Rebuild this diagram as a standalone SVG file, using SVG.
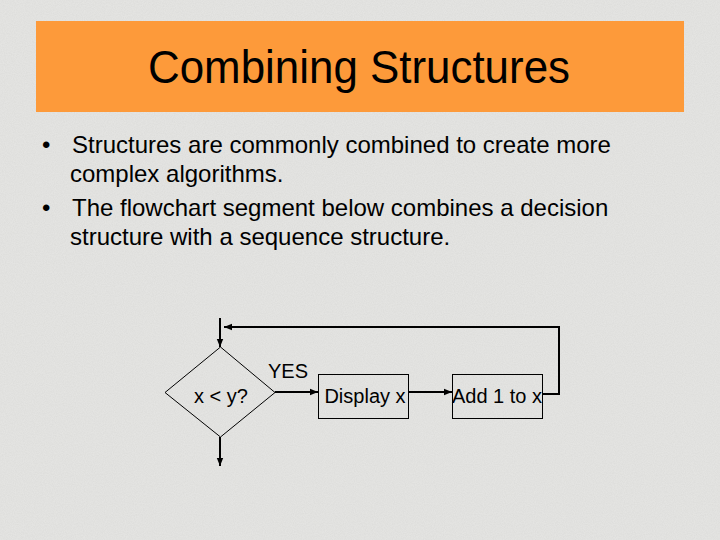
<svg xmlns="http://www.w3.org/2000/svg" width="720" height="540" viewBox="0 0 720 540">
<defs>
<filter id="noise" x="0" y="0" width="100%" height="100%">
<feTurbulence type="fractalNoise" baseFrequency="0.9" numOctaves="2" seed="3" result="t"/>
<feColorMatrix type="matrix" values="0 0 0 0 0.6  0 0 0 0 0.6  0 0 0 0 0.58  0 0 0 -1.2 0.9"/>
</filter>
<marker id="arr" viewBox="0 0 10 10" refX="10" refY="5" markerWidth="8" markerHeight="8" markerUnits="userSpaceOnUse" orient="auto">
<path d="M0,1 L10,5 L0,9 z" fill="#000"/>
</marker>
<style>
.t{font-family:"Liberation Sans",Arial,sans-serif;fill:#000}
.b{font-size:24px}
.f{font-size:20px}
.shape{fill:none;stroke:#000;stroke-width:1}
.con{fill:none;stroke:#000;stroke-width:2;marker-end:url(#arr)}
</style>
</defs>
<rect width="720" height="540" fill="#e4e4e2"/>
<rect width="720" height="540" filter="url(#noise)" opacity="0.35"/>
<g id="title">
<rect x="36" y="21" width="648" height="91" fill="#fd9a3a"/>
<text class="t" x="359" y="83" font-size="46" text-anchor="middle" textLength="422" lengthAdjust="spacingAndGlyphs">Combining Structures</text>
</g>
<g id="bullets" class="t b">
<text x="42" y="153">•</text>
<text x="72" y="153">Structures are commonly combined to create more</text>
<text x="70" y="182">complex algorithms.</text>
<text x="42" y="216">•</text>
<text x="72" y="216">The flowchart segment below combines a decision</text>
<text x="70" y="245">structure with a sequence structure.</text>
</g>
<g id="decision">
<polygon class="shape" points="220.5,347 275,392.5 220.5,437 165,392.5"/>
<text class="t f" x="221" y="403" text-anchor="middle">x &lt; y?</text>
</g>
<g id="display">
<rect class="shape" x="318.5" y="374.5" width="90" height="44"/>
<text class="t f" x="365" y="403" text-anchor="middle">Display x</text>
</g>
<g id="add">
<rect class="shape" x="452.5" y="374.5" width="90" height="44"/>
<text class="t f" x="497" y="403" text-anchor="middle">Add 1 to x</text>
</g>
<g id="connectors">
<line class="con" x1="220" y1="318" x2="220" y2="347"/>
<line class="con" x1="220" y1="437" x2="220" y2="466"/>
<line class="con" x1="275" y1="392" x2="318" y2="392"/>
<line class="con" x1="409" y1="392" x2="452" y2="392"/>
<polyline class="con" points="543,394 559,394 559,327 224,327"/>
<text class="t f" x="268" y="378">YES</text>
</g>
</svg>
